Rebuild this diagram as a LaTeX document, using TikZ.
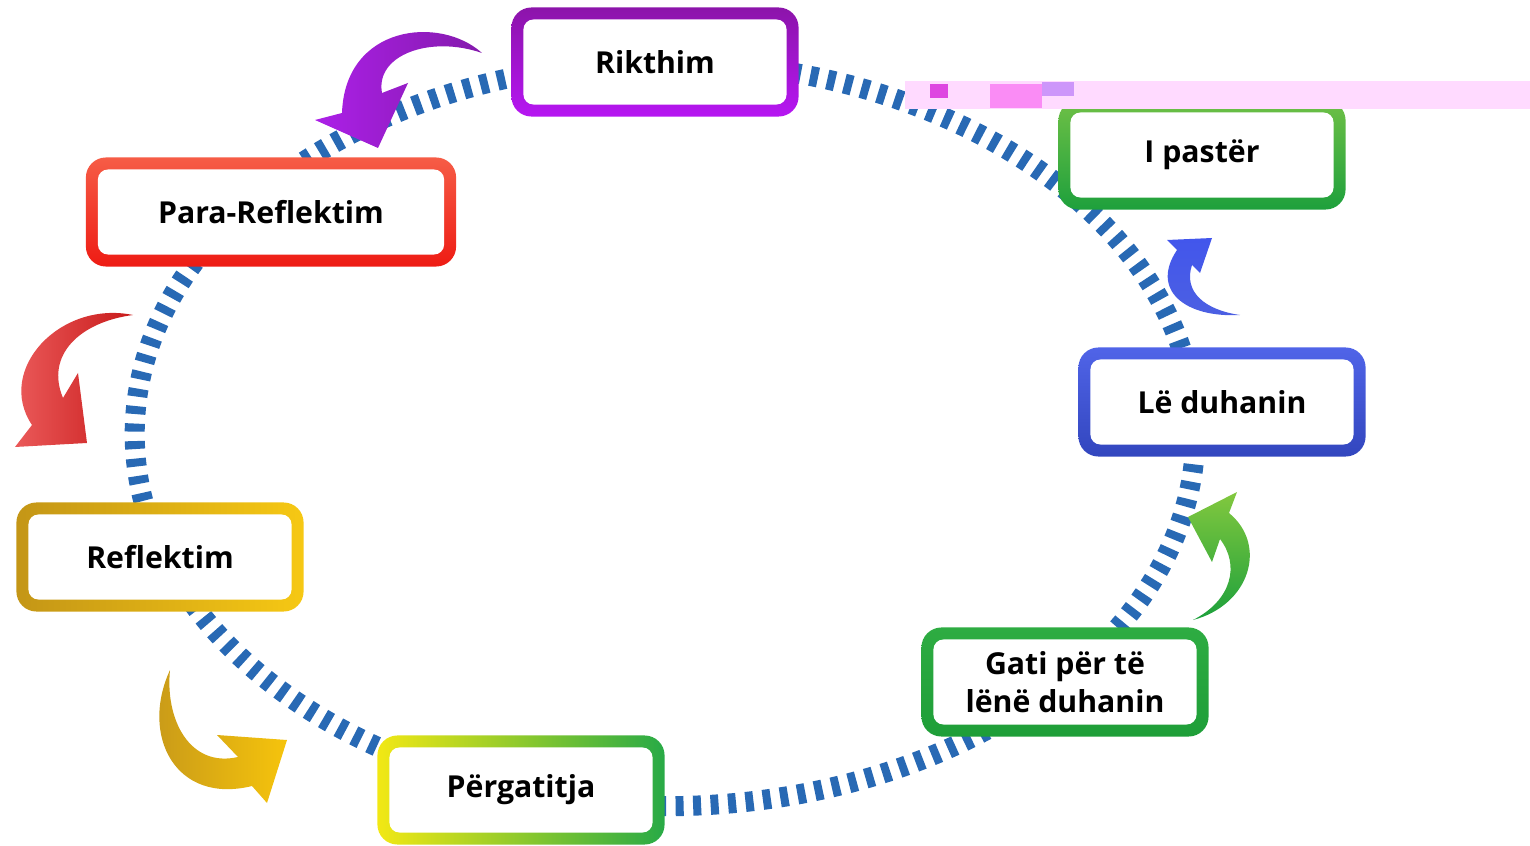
\documentclass[tikz,border=0pt]{standalone}
\usepackage{fontspec}
\setmainfont{Open Sans}
\usepackage{tikz}

\definecolor{ringblue}{RGB}{40,105,180}
\definecolor{bandpink}{RGB}{255,218,255}
\definecolor{glitchA}{RGB}{222,70,225}
\definecolor{glitchB}{RGB}{250,140,245}
\definecolor{glitchC}{RGB}{205,150,250}
\newcommand{\stagefont}{\fontsize{8.6}{10.8}\selectfont\bfseries}

\tikzset{
    stage/.style={rounded corners=0.2cm, minimum width=2.87cm, minimum height=1.09cm,
        inner sep=0pt, align=center, font=\stagefont,
        path picture={\fill[white, rounded corners=0.1cm]
            ([shift={(0.12cm,0.12cm)}]path picture bounding box.south west) rectangle
            ([shift={(-0.12cm,-0.12cm)}]path picture bounding box.north east);}}
}

\begin{document}
\begin{tikzpicture}[x=0.01cm, y=-0.01cm]
        \useasboundingbox (0,0) rectangle (1530,846);

        % Ring
        \draw[ringblue, line width=0.2cm, dash pattern=on 0.08cm off 0.095cm]
            (665,434) ellipse [x radius=5.3cm, y radius=3.72cm];

        % Nodes
        \node[stage, top color={rgb,255:red,140;green,20;blue,170}, bottom color={rgb,255:red,182;green,22;blue,242}] (rikthim) at (655,62) {Rikthim};
        \node[stage, top color={rgb,255:red,110;green,192;blue,70}, bottom color={rgb,255:red,30;green,160;blue,60}] (paster) at (1202,155) {I pastër};
        \node[stage, minimum width=3.7cm, top color={rgb,255:red,246;green,92;blue,70}, bottom color={rgb,255:red,238;green,28;blue,20}] (para) at (271,212) {Para-Reflektim};
        \node[stage, top color={rgb,255:red,80;green,100;blue,232}, bottom color={rgb,255:red,50;green,70;blue,190}] (ledu) at (1222,402) {Lë duhanin};
        \node[stage, left color={rgb,255:red,196;green,150;blue,22}, right color={rgb,255:red,246;green,200;blue,20}] (reflektim) at (160,557) {Reflektim};
        \node[stage, top color={rgb,255:red,46;green,172;blue,66}, bottom color={rgb,255:red,30;green,158;blue,56}] (gati) at (1065,682) {Gati për të\\lënë duhanin};
        \node[stage, left color={rgb,255:red,242;green,232;blue,20}, right color={rgb,255:red,40;green,170;blue,70}] (pergatitja) at (521,790) {Përgatitja};

        % Arrows
        \shade[left color={rgb,255:red,172;green,32;blue,232}, right color={rgb,255:red,132;green,26;blue,172}]
            (482,53) .. controls (440,15) and (345,25) .. (342,113) -- (315,120) -- (378,148)
            -- (408,83) -- (382,93) .. controls (375,55) and (430,35) .. (482,53) -- cycle;
        \shade[left color={rgb,255:red,240;green,100;blue,100}, right color={rgb,255:red,200;green,26;blue,26}]
            (133,315) .. controls (60,300) and (-5,370) .. (32,425) -- (15,447) -- (87,443)
            -- (78,373) -- (63,398) .. controls (45,355) and (80,322) .. (133,315) -- cycle;
        \shade[left color={rgb,255:red,196;green,150;blue,26}, right color={rgb,255:red,246;green,196;blue,12}]
            (170,670) .. controls (140,735) and (175,805) .. (252,786) -- (267,803) -- (287,740)
            -- (217,735) -- (238,757) .. controls (190,768) and (165,720) .. (170,670) -- cycle;
        \shade[top color={rgb,255:red,66;green,86;blue,236}, bottom color={rgb,255:red,76;green,96;blue,226}]
            (1240,315) .. controls (1185,318) and (1150,290) .. (1177,250) -- (1167,240) -- (1212,238)
            -- (1200,273) -- (1192,265) .. controls (1183,292) and (1205,310) .. (1240,315) -- cycle;
        \shade[top color={rgb,255:red,130;green,200;blue,62}, bottom color={rgb,255:red,28;green,160;blue,60}]
            (1193,620) .. controls (1250,605) and (1268,545) .. (1229,513) -- (1237,492) -- (1188,517)
            -- (1212,562) -- (1220,539) .. controls (1240,565) and (1232,600) .. (1193,620) -- cycle;

        % Band
        \fill[bandpink] (905,81) rectangle (1530,109);
        \fill[glitchA] (930,84) rectangle (948,98);
        \fill[glitchB] (990,84) rectangle (1042,108);
        \fill[glitchC] (1042,82) rectangle (1074,96);
    \end{tikzpicture}
\end{document}
